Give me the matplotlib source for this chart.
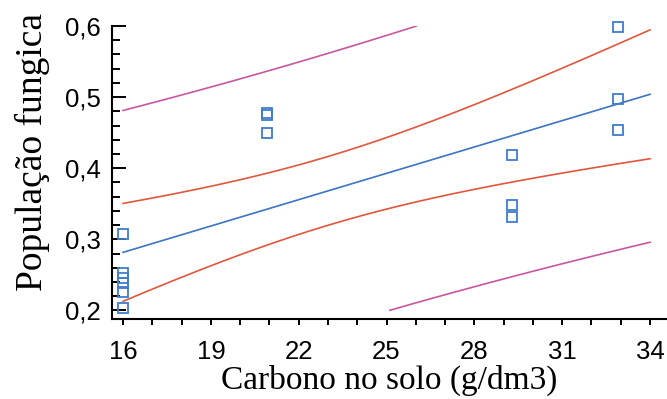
import numpy as np
import matplotlib
matplotlib.use("Agg")
import matplotlib.pyplot as plt
from matplotlib.ticker import MultipleLocator, FuncFormatter

# Observed data (Carbono no solo vs População fungica)
carbono = [16, 16, 16, 16, 16, 16,
           20.9, 20.9, 20.9,
           29.3, 29.3, 29.3,
           32.9, 32.9, 32.9]
populacao = [0.307, 0.252, 0.246, 0.239, 0.226, 0.204,
             0.478, 0.475, 0.450,
             0.419, 0.348, 0.332,
             0.598, 0.498, 0.454]

x_ticks = [16, 19, 22, 25, 28, 31, 34]
y_ticks = [0.2, 0.3, 0.4, 0.5, 0.6]

T_CRIT = 2.160  # t(0.975, df=13)

x = np.array(carbono, float)
y = np.array(populacao, float)
n = len(x)
slope, intercept = np.polyfit(x, y, 1)
resid = y - (intercept + slope * x)
s = np.sqrt(np.sum(resid ** 2) / (n - 2))
xm = x.mean()
sxx = np.sum((x - xm) ** 2)

xs = np.linspace(16, 34, 400)
fit = intercept + slope * xs
se_c = s * np.sqrt(1 / n + (xs - xm) ** 2 / sxx)
se_p = s * np.sqrt(1 + 1 / n + (xs - xm) ** 2 / sxx)

def clip(v):
    v = v.copy()
    v[(v < 0.2) | (v > 0.6)] = np.nan
    return v

c_up, c_lo = clip(fit + T_CRIT * se_c), clip(fit - T_CRIT * se_c)
p_up, p_lo = clip(fit + T_CRIT * se_p), clip(fit - T_CRIT * se_p)

fig = plt.figure(figsize=(6.67, 3.99), dpi=100)
ax = fig.add_axes([0.168, 0.2005, 0.832, 0.7343])

blue = "#3b74c4"
red = "#e0573d"
mag = "#c8579f"
lw = 1.2

ax.plot(xs, p_up, color=mag, lw=lw)
ax.plot(xs, p_lo, color=mag, lw=lw)
ax.plot(xs, c_up, color=red, lw=lw)
ax.plot(xs, c_lo, color=red, lw=lw)
ax.plot(xs, fit, color=blue, lw=lw)
ax.plot(x, y, ls="none", marker="s", ms=7.5, mfc="none", mec="#3f7dcc",
        mew=1.3, clip_on=False, zorder=5)

ax.set_xlim(15.624, 34.58)
ax.set_ylim(0.188, 0.6)

for sp in ("top", "right"):
    ax.spines[sp].set_visible(False)
for sp in ("left", "bottom"):
    ax.spines[sp].set_linewidth(1.5)

ax.set_xticks(x_ticks)
ax.xaxis.set_minor_locator(MultipleLocator(1))
ax.set_yticks(y_ticks)
ax.yaxis.set_minor_locator(MultipleLocator(0.02))
ax.yaxis.set_major_formatter(FuncFormatter(lambda v, p: f"{v:.1f}".replace(".", ",")))

ax.tick_params(axis="x", which="both", direction="out", length=4, width=1.4,
               pad=11, labelsize=18.5)
ax.tick_params(axis="y", which="major", direction="in", length=10, width=1.4,
               pad=8, labelsize=18.5)
ax.tick_params(axis="y", which="minor", direction="in", length=5.5, width=1.4)
for lab in ax.get_xticklabels() + ax.get_yticklabels():
    lab.set_fontfamily("Liberation Sans")

ax.set_xlabel("Carbono no solo (g/dm3)", fontfamily="Liberation Serif",
              fontsize=24, labelpad=1)
ax.set_ylabel("População fungica", fontfamily="Liberation Serif",
              fontsize=27)
ax.yaxis.set_label_coords(-0.112, 0.57)

fig.savefig("out.png", dpi=100)
